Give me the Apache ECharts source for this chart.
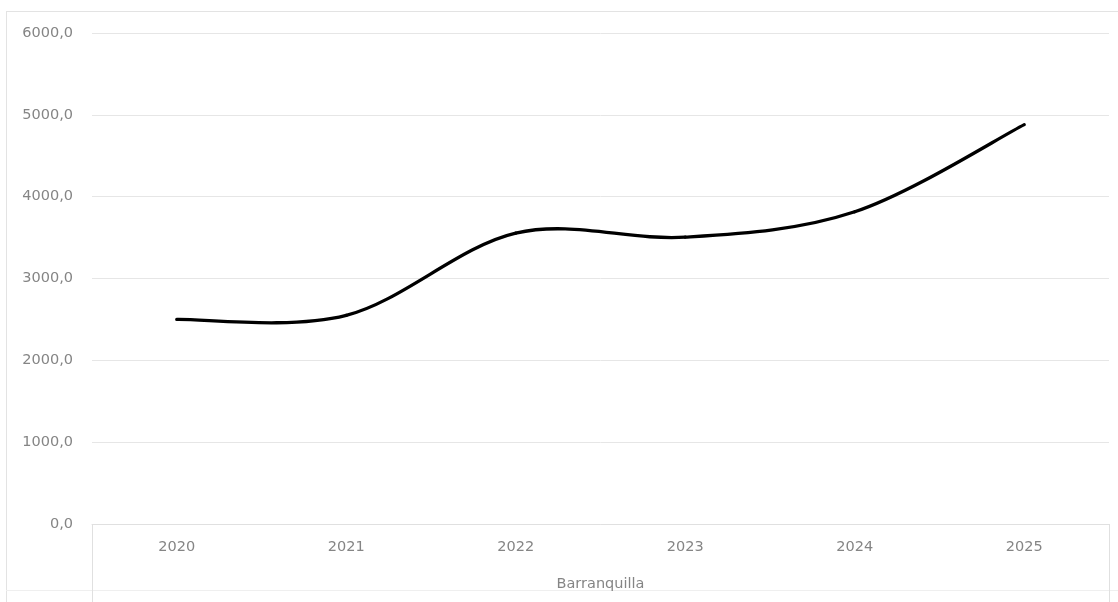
<!DOCTYPE html>
<html>
<head>
<meta charset="utf-8">
<script src="https://cdn.jsdelivr.net/npm/echarts@6/dist/echarts.min.js"></script>
<style>
html,body{margin:0;padding:0;background:#fff;}
#frame{position:absolute;left:6px;top:11px;width:1120px;height:600px;border:1px solid #e3e3e3;box-sizing:border-box;}
#rule{position:absolute;left:6px;top:590px;width:1112px;height:0;border-top:1px solid #efefef;}
#chart{position:absolute;left:0;top:0;width:1118px;height:602px;}
</style>
</head>
<body>
<div id="frame"></div>
<div id="rule"></div>
<div id="chart"></div>
<script>
const years = ['2020', '2021', '2022', '2023', '2024', '2025'];
const groupLabels = ['Barranquilla'];
const values = [2500, 2550, 3555, 3505, 3815, 4880];
const yTicks = { min: 0, max: 6000, interval: 1000 };

const chart = echarts.init(document.getElementById('chart'));
const labelColor = '#858585';
const fontFamily = 'DejaVu Sans, sans-serif';

// Excel-style smoothed segment (Catmull-Rom -> cubic Bezier), drawn through the axis scales
function renderSegment(params, api) {
  const i = params.dataIndex;
  if (i >= values.length - 1) return null;
  const clampIdx = k => Math.max(0, Math.min(values.length - 1, k));
  const pt = k => api.coord([clampIdx(k), values[clampIdx(k)]]);
  const p0 = pt(i - 1), p1 = pt(i), p2 = pt(i + 1), p3 = pt(i + 2);
  const t = 1 / 6;
  return {
    type: 'bezierCurve',
    shape: {
      x1: p1[0], y1: p1[1],
      cpx1: p1[0] + (p2[0] - p0[0]) * t, cpy1: p1[1] + (p2[1] - p0[1]) * t,
      cpx2: p2[0] - (p3[0] - p1[0]) * t, cpy2: p2[1] - (p3[1] - p1[1]) * t,
      x2: p2[0], y2: p2[1]
    },
    style: { stroke: '#000', lineWidth: 3.3, fill: null, lineCap: 'round' }
  };
}

chart.setOption({
  animation: false,
  grid: { left: 92, right: 9, top: 33, bottom: 78 },
  xAxis: [
    {
      type: 'category',
      data: years,
      boundaryGap: true,
      axisLine: { show: true, lineStyle: { color: '#e0e0e0', width: 1 } },
      axisTick: { show: false },
      axisLabel: { color: labelColor, fontSize: 14.5, fontFamily: fontFamily, margin: 16 }
    },
    {
      type: 'category',
      position: 'bottom',
      data: groupLabels,
      boundaryGap: true,
      axisLine: { show: false },
      axisTick: { show: true, inside: false, length: 80, lineStyle: { color: '#e0e0e0', width: 1 } },
      axisLabel: { color: labelColor, fontSize: 14.5, fontFamily: fontFamily, margin: 53 }
    }
  ],
  yAxis: {
    type: 'value',
    min: yTicks.min,
    max: yTicks.max,
    interval: yTicks.interval,
    axisLine: { show: false },
    axisTick: { show: false },
    splitLine: { lineStyle: { color: '#e6e6e6', width: 1 } },
    axisLabel: {
      color: labelColor, fontSize: 14.5, fontFamily: fontFamily, margin: 19,
      formatter: v => v.toFixed(1).replace('.', ',')
    }
  },
  series: [{
    type: 'custom',
    name: 'Barranquilla',
    xAxisIndex: 0,
    yAxisIndex: 0,
    data: values.map((v, i) => [i, v]),
    encode: { x: 0, y: 1 },
    renderItem: renderSegment
  }]
});
</script>
</body>
</html>
